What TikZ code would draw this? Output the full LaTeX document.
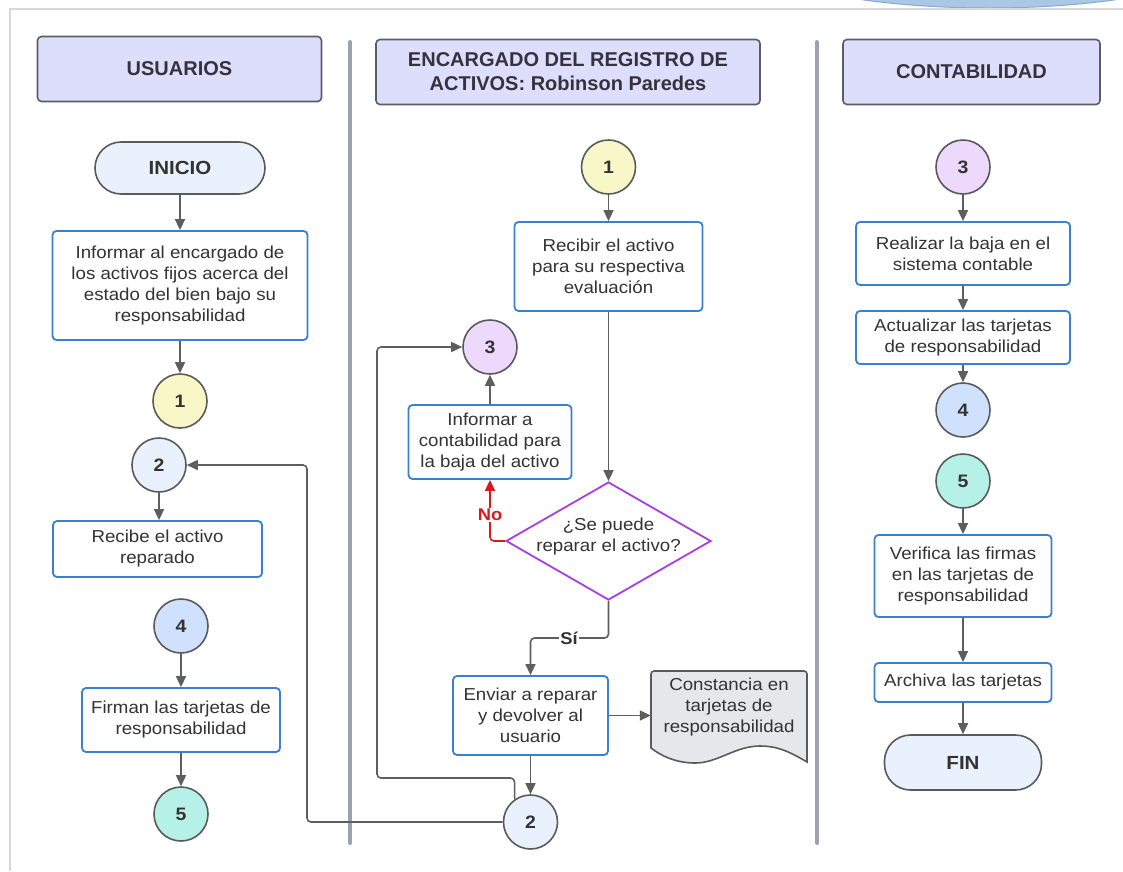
\documentclass[tikz,border=0pt]{standalone}
\usepackage{fontspec}
\setmainfont{Liberation Sans}
\newfontfamily\bodyfont{Liberation Sans}[FakeStretch=1.08]
\usetikzlibrary{arrows.meta,shapes.geometric,calc}

\definecolor{hdrfill}{HTML}{DDDDFC}
\definecolor{hdrdraw}{HTML}{5C5C66}
\definecolor{hdrtext}{HTML}{33333D}
\definecolor{lanec}{HTML}{9DA2B0}
\definecolor{procblue}{HTML}{3A80D2}
\definecolor{txt}{HTML}{333333}
\definecolor{conndraw}{HTML}{5A5A5A}
\definecolor{cyellow}{HTML}{F8F7C8}
\definecolor{clight}{HTML}{E9F1FD}
\definecolor{clav}{HTML}{EDD9FB}
\definecolor{cblue}{HTML}{CFE1FC}
\definecolor{cmint}{HTML}{B6F1E7}
\definecolor{diac}{HTML}{A93EE0}
\definecolor{noc}{HTML}{D61A1A}
\definecolor{docfill}{HTML}{E6E7EB}
\definecolor{framec}{HTML}{D8D8D8}
\definecolor{arrowc}{HTML}{5E5E5E}
\definecolor{blobfill}{HTML}{AAC8E6}
\definecolor{blobdraw}{HTML}{86A9CF}

\tikzset{
  hdr/.style={draw=hdrdraw, fill=hdrfill, line width=1.6pt, rounded corners=4pt,
    font=\bfseries\fontsize{20}{24}\selectfont, text=hdrtext, align=center, inner sep=0pt},
  proc/.style={draw=procblue, fill=white, line width=1.8pt, rounded corners=4pt,
    font=\bodyfont\fontsize{17.3}{21}\selectfont, text=txt, align=center, inner sep=0pt},
  conn/.style={circle, draw=conndraw, line width=1.6pt, minimum size=54pt, inner sep=0pt,
    font=\bodyfont\bfseries\fontsize{18}{20}\selectfont, text=txt},
  term/.style={draw=conndraw, fill=clight, line width=1.6pt, rounded corners=26pt, inner sep=0pt,
    font=\bodyfont\bfseries\fontsize{19}{22}\selectfont, text=txt},
  arr/.style={draw=arrowc, line width=1.6pt, -{Triangle[length=11pt,width=10pt]}, rounded corners=4pt},
  lane/.style={draw=lanec, line width=4pt, line cap=round},
  lbl/.style={font=\bodyfont\bfseries\fontsize{17}{19}\selectfont, fill=white, inner sep=1pt}
}

\begin{document}
\begin{tikzpicture}[x=1pt,y=-1pt]
\useasboundingbox (0,0) rectangle (1123,871);
\fill[white] (0,0) rectangle (1123,871);

% clipped blue shape at the upper right edge
\begin{scope}
  \clip (0,0) rectangle (1123,871);
  \fill[blobfill, draw=blobdraw, line width=1pt] (989,-52) ellipse [x radius=250, y radius=60];
\end{scope}

% page frame
\draw[framec, line width=1.5pt] (1123,9) -- (10,9) -- (10,871);

% lane dividers
\draw[lane] (350,42) -- (350,843);
\draw[lane] (817,42) -- (817,843);

% lane headers
\node[hdr, minimum width=284pt, minimum height=65pt] (hU) at (179.5,69) {USUARIOS};
\node[hdr, minimum width=384pt, minimum height=65pt] (hE) at (568,72) {ENCARGADO DEL REGISTRO DE\\ACTIVOS: Robinson Paredes};
\node[hdr, minimum width=257pt, minimum height=65pt] (hC) at (971.5,72) {CONTABILIDAD};

% ---------- USUARIOS ----------
\node[term, minimum width=170pt, minimum height=52pt] (ini) at (180,168) {INICIO};
\node[proc, minimum width=255pt, minimum height=109pt] (inf1) at (180,285.5)
  {Informar al encargado de\\los activos fijos acerca del\\estado del bien bajo su\\responsabilidad};
\node[conn, fill=cyellow] (c1a) at (180,401) {1};
\node[conn, fill=clight] (c2a) at (159,465) {2};
\node[proc, minimum width=209pt, minimum height=56pt] (rec) at (157.5,549) {Recibe el activo\\reparado};
\node[conn, fill=cblue] (c4a) at (181,626) {4};
\node[proc, minimum width=198pt, minimum height=64pt] (firm) at (181,720) {Firman las tarjetas de\\responsabilidad};
\node[conn, fill=cmint] (c5a) at (181,814) {5};

% ---------- ENCARGADO ----------
\node[conn, fill=cyellow] (c1b) at (608.5,167) {1};
\node[proc, minimum width=188pt, minimum height=89pt] (recibir) at (608.5,266.5)
  {Recibir el activo\\para su respectiva\\evaluación};
\node[conn, fill=clav] (c3a) at (490,347) {3};
\node[proc, minimum width=163pt, minimum height=74pt] (inf3) at (490,442)
  {Informar a\\contabilidad para\\la baja del activo};
\node[diamond, draw=diac, fill=white, line width=1.8pt, minimum width=205pt, minimum height=118pt,
  inner sep=0pt] (dia) at (608.5,541) {};
\node[font=\bodyfont\fontsize{17.3}{21}\selectfont, text=txt, align=center] (diaT) at (608.5,537)
  {¿Se puede\\reparar el activo?};
\node[proc, minimum width=155pt, minimum height=79pt] (enviar) at (530.5,715.5)
  {Enviar a reparar\\y devolver al\\usuario};
\draw[draw=conndraw, fill=docfill, line width=1.6pt]
  (651,748) {[rounded corners=3pt] -- (651,671) -- (807,671)} -- (807,762)
  .. controls (790,752) and (778,746) .. (760,746)
  .. controls (735,746) and (718,763) .. (695,763)
  .. controls (675,763) and (660,755) .. (651,748) -- cycle;
\node[font=\bodyfont\fontsize{17.3}{21}\selectfont, text=txt, align=center,
  minimum width=156pt, inner sep=0pt] (doc) at (729,707)
  {Constancia en\\tarjetas de\\responsabilidad};
\node[conn, fill=clight] (c2b) at (530.5,822) {2};

% ---------- CONTABILIDAD ----------
\node[conn, fill=clav] (c3b) at (963,167) {3};
\node[proc, minimum width=214pt, minimum height=63pt] (realizar) at (963,253.5)
  {Realizar la baja en el\\sistema contable};
\node[proc, minimum width=214pt, minimum height=53pt] (actualizar) at (963,337.5)
  {Actualizar las tarjetas\\de responsabilidad};
\node[conn, fill=cblue] (c4b) at (963,410) {4};
\node[conn, fill=cmint] (c5b) at (963,481) {5};
\node[proc, minimum width=177pt, minimum height=82pt] (verifica) at (963,576)
  {Verifica las firmas\\en las tarjetas de\\responsabilidad};
\node[proc, minimum width=177pt, minimum height=39pt] (archiva) at (963,682.5)
  {Archiva las tarjetas};
\node[term, minimum width=157pt, minimum height=55pt] (fin) at (963,762.5) {FIN};

% route points
\coordinate (si) at (608.5,638);
\coordinate (ret1) at (307,0);
\coordinate (lp1) at (377,778);

% ---------- connectors ----------
\draw[arr] (ini.south) -- (inf1.north);
\draw[arr] (inf1.south) -- (c1a.north);
\draw[arr] (c2a.south) -- (c2a.south |- rec.north);
\draw[arr] (c4a.south) -- (firm.north);
\draw[arr] (firm.south) -- (c5a.north);

\draw[arr] (c1b.south) -- (recibir.north);
\draw[arr] (recibir.south) -- (dia.north);
\draw[arr, draw=noc, -{Triangle[length=11pt,width=10pt,fill=noc]}] (dia.west) -| (inf3.south);
\node[lbl, text=noc] (lNo) at (490,515) {No};
\draw[arr] (inf3.north) -- (c3a.south);
\draw[arr] (dia.south) -- (si) -| (enviar.north);
\node[lbl, text=txt] (lSi) at (569,638) {Sí};
\draw[arr] (enviar.east) -- (doc.west |- enviar.east);
\draw[arr] (enviar.south) -- (c2b.north);
\draw[arr] (c2b.west) -- (ret1 |- c2b.west) -- (ret1 |- c2a.east) -- (c2a.east);
\draw[arr] (c2b.125) |- (lp1) |- (c3a.west);

\draw[arr] (c3b.south) -- (realizar.north);
\draw[arr] (realizar.south) -- (actualizar.north);
\draw[arr] (actualizar.south) -- (c4b.north);
\draw[arr] (c5b.south) -- (verifica.north);
\draw[arr] (verifica.south) -- (archiva.north);
\draw[arr] (archiva.south) -- (fin.north);
\end{tikzpicture}
\end{document}
